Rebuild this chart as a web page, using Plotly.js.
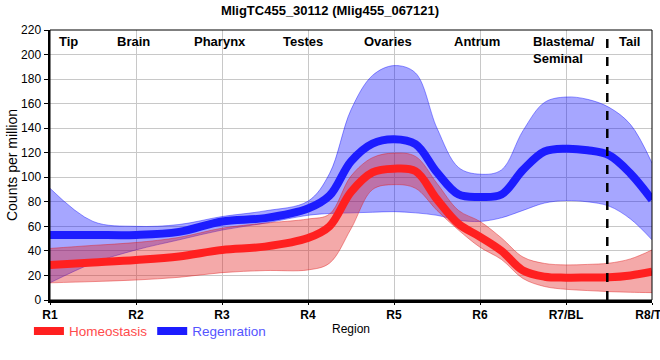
<!DOCTYPE html>
<html>
<head>
<meta charset="utf-8">
<script src="https://cdn.plot.ly/plotly-3.0.1.min.js"></script>
<style>
html,body{margin:0;padding:0;background:#fff;}
#chart{width:660px;height:360px;}
</style>
</head>
<body>
<div id="chart"></div>
<script>
// ---- data ----
var positions = [1,1.5,2,2.5,3,3.5,4,4.25,4.5,4.75,5,5.25,5.5,5.75,6,6.25,6.5,6.75,7,7.25,7.5,7.75,8];

var homeoMean  = [28.5,30.5,32.6,35.5,40.8,43.5,50.5,60,88,104,107,105,82,62,51.5,40,24,19,18.2,18.3,18.5,20,23];
var homeoUpper = [42,44.5,46.8,51,58.5,62.6,66,70,101,116,119.7,117,95,73,64,50.5,35,29.8,28.6,29,30,33.5,40.8];
var homeoLower = [14,15,16.3,18.5,22.3,24,24.5,30,58,90,94,91,73,57,43,33,17.5,11,8.7,7.7,6.8,6.3,6];

var regenMean  = [53,53,53,55.5,64,66.7,74.5,85,113,127.5,131,127,104,86,84,86,106,121,123.3,122,118,103,81.6];
var regenUpper = [91,64,60,61.5,68,72.6,80.5,103,155,183,191,185,140,108,102.5,106,138,161,165.4,163.5,157,143,111.6];
var regenLower = [14,30,40.8,49,57,62.6,69,70.5,71,71.5,72,71,69,65,64,67,73,79,81,80,76.5,66,49];

var tickPositions = [1,2,3,4,5,6,7,8];
var tickLabels = ["R1","R2","R3","R4","R5","R6","R7/BL","R8/TL"];

var regionNames = ["Tip","Brain","Pharynx","Testes","Ovaries","Antrum","Blastema/<br>Seminal","Tail"];
var regionCenters = [1.21,1.97,2.98,3.94,4.93,5.97,6.98,7.74];
var tailBoundary = 7.48;

var seriesNames = ["Homeostasis","Regenration"];

// ---- styles ----
var RED = "#ff2020", BLUE = "#1c1cff";
var RED_FILL = "rgba(225,30,30,0.38)", BLUE_FILL = "rgba(0,0,255,0.35)";
var RED_EDGE = "rgba(225,30,30,0.45)", BLUE_EDGE = "rgba(0,0,255,0.4)";

function band(lower, upper, fill, edge) {
  return [
    {x: positions, y: lower, mode: "lines", line: {shape: "spline", color: edge, width: 1},
     showlegend: false, hoverinfo: "skip"},
    {x: positions, y: upper, mode: "lines", fill: "tonexty", fillcolor: fill,
     line: {shape: "spline", color: edge, width: 1}, showlegend: false, hoverinfo: "skip"}
  ];
}

var traces = [];
traces = traces.concat(band(regenLower, regenUpper, BLUE_FILL, BLUE_EDGE));
traces.push({x: positions, y: regenMean, mode: "lines", name: '<span style="color:#5555ff">' + seriesNames[1] + '</span>',
  line: {shape: "spline", color: BLUE, width: 8}});
traces = traces.concat(band(homeoLower, homeoUpper, RED_FILL, RED_EDGE));
traces.push({x: positions, y: homeoMean, mode: "lines", name: '<span style="color:#ff4b4b">' + seriesNames[0] + '</span>',
  line: {shape: "spline", color: RED, width: 8}});

var annotations = regionNames.map(function(n, i) {
  return {x: regionCenters[i], xref: "x", y: 1, yref: "paper", yanchor: "top", yshift: -2,
    text: "<b>" + n + "</b>", showarrow: false, align: "left",
    font: {family: "Liberation Sans, Arial, sans-serif", size: 13, color: "#000"}};
});

var layout = {
  width: 660, height: 360,
  margin: {l: 50, r: 8, t: 30, b: 60},
  paper_bgcolor: "#fff", plot_bgcolor: "#fff",
  font: {family: "Liberation Sans, Arial, sans-serif", size: 12, color: "#000"},
  title: {text: "<b>MligTC455_30112 (Mlig455_067121)</b>", x: 0.5, xanchor: "center", y: 0.985, yanchor: "top",
    font: {size: 13, color: "#000"}},
  xaxis: {range: [1, 8], tickvals: tickPositions, ticktext: tickLabels.map(function(t){return "<b>"+t+"</b>";}),
    showgrid: true, gridcolor: "#c8c8c8", gridwidth: 1, zeroline: false, ticklabeloverflow: "allow",
    showline: true, linecolor: "#000", linewidth: 2.5, ticks: "outside", ticklen: 2, tickcolor: "#000",
    tickfont: {size: 12}, title: {text: "Region", standoff: 4, font: {size: 12}}},
  yaxis: {range: [0, 220], dtick: 20, showgrid: true, gridcolor: "#c8c8c8", gridwidth: 1, zeroline: false,
    automargin: true,
    showline: true, linecolor: "#000", linewidth: 2.5, ticks: "outside", ticklen: 4, tickcolor: "#000",
    tickfont: {size: 12}, title: {text: "Counts per million", standoff: 0, font: {size: 14}}},
  showlegend: true,
  legend: {orientation: "h", traceorder: "reversed", x: -0.035, xanchor: "left", y: -0.058, yanchor: "top",
    font: {size: 13.5}, itemwidth: 30, tracegroupgap: 0, bgcolor: "rgba(0,0,0,0)"},
  shapes: [
    {type: "rect", xref: "paper", yref: "paper", x0: 0, x1: 1, y0: 0, y1: 1,
     line: {color: "#000", width: 1}, layer: "above"},
    {type: "line", xref: "x", yref: "paper", x0: tailBoundary, x1: tailBoundary, y0: 0, y1: 1,
     line: {color: "#000", width: 2.5, dash: "dash"}, layer: "above"}
  ],
  annotations: annotations
};

Plotly.newPlot("chart", traces, layout, {displayModeBar: false, staticPlot: true});
</script>
</body>
</html>
